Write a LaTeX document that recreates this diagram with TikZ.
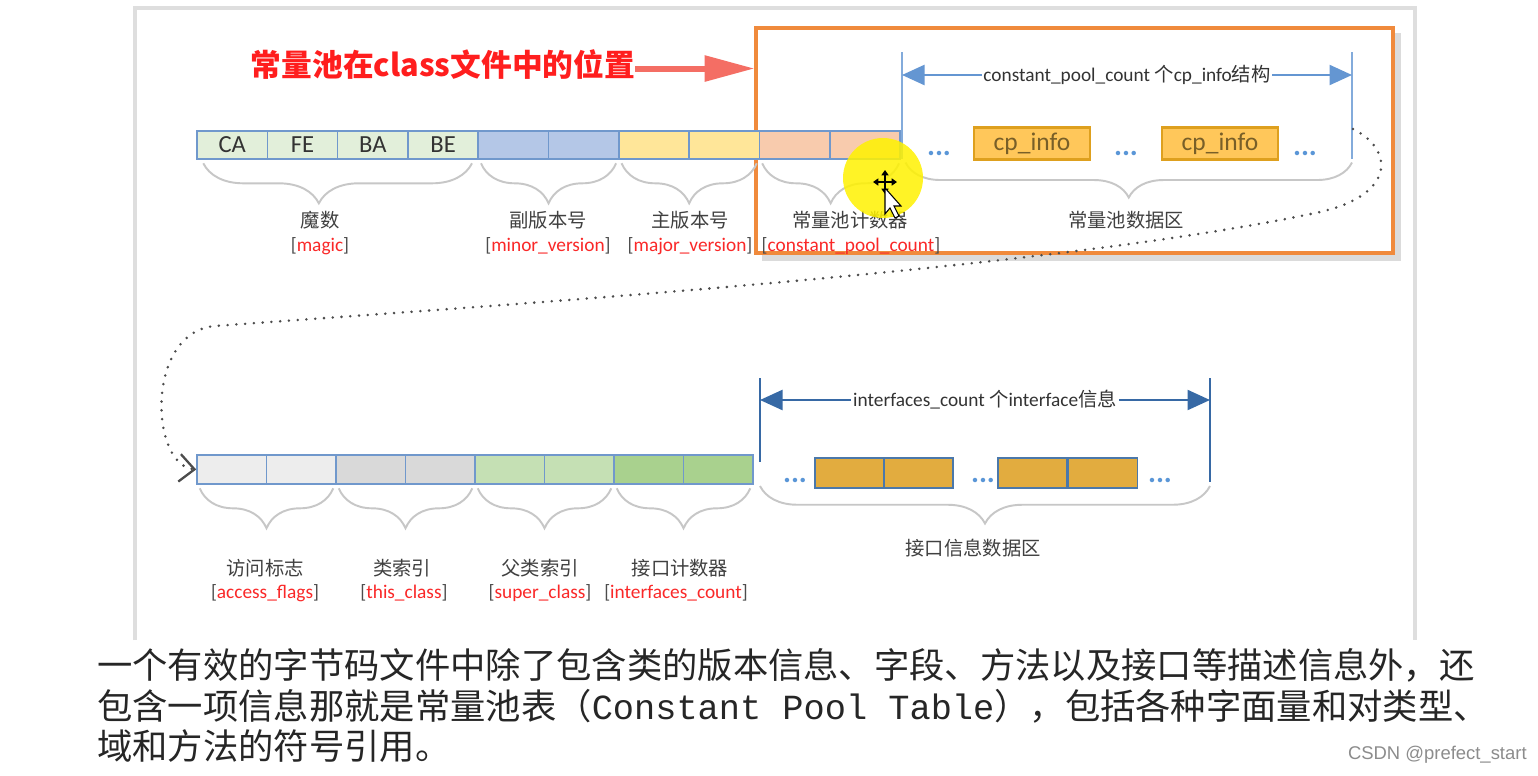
\documentclass[tikz,border=0pt]{standalone}
\usepackage{fontspec}
\setmainfont{Carlito}
\newfontfamily\cjk{Noto Sans CJK SC}
\newfontfamily\mono{Liberation Mono}
\newfontfamily\wmark{Liberation Sans}
\usetikzlibrary{arrows.meta,decorations.pathreplacing,positioning}
\definecolor{cellline}{RGB}{112,152,204}
\definecolor{magicC}{RGB}{226,239,218}
\definecolor{minorC}{RGB}{180,199,231}
\definecolor{majorC}{RGB}{255,230,153}
\definecolor{countC}{RGB}{248,203,173}
\definecolor{accessC}{RGB}{237,237,237}
\definecolor{thisC}{RGB}{217,217,217}
\definecolor{superC}{RGB}{197,224,180}
\definecolor{icountC}{RGB}{169,209,142}
\definecolor{cpfill}{RGB}{255,199,90}
\definecolor{cpline}{RGB}{222,160,30}
\definecolor{cptext}{RGB}{120,95,40}
\definecolor{iffill}{RGB}{226,172,63}
\definecolor{ifline}{RGB}{75,120,170}
\definecolor{labred}{RGB}{250,40,40}
\definecolor{titlered}{RGB}{255,30,30}
\definecolor{salmon}{RGB}{244,110,100}
\definecolor{poolorange}{RGB}{240,138,60}
\definecolor{dimblue}{RGB}{100,150,210}
\definecolor{dimblueb}{RGB}{55,105,165}
\definecolor{dotblue}{RGB}{90,150,215}

\begin{document}
\begin{tikzpicture}
    [x=0.02cm, y=-0.02cm,
      cell/.style={
        rectangle,
        draw=cellline,
        line width=0.9pt,
        minimum width=1.406cm,
        minimum height=0.56cm,
        inner sep=0pt,
        text=black!80,
        font=\fontsize{14}{16}\selectfont
      },
      cellb/.style={cell, minimum width=1.39cm, minimum height=0.58cm},
      cpbox/.style={
        rectangle,
        draw=cpline,
        line width=1.2pt,
        fill=cpfill,
        minimum width=2.32cm,
        minimum height=0.64cm,
        inner sep=0pt,
        text=cptext,
        font=\fontsize{14.5}{16}\selectfont
      },
      ifbox/.style={
        rectangle,
        draw=ifline,
        line width=0.9pt,
        fill=iffill,
        minimum width=1.38cm,
        minimum height=0.6cm,
        inner sep=0pt
      },
      brc/.style={
        decorate,
        decoration={brace, mirror, amplitude=0.8cm},
        draw=black!22,
        line width=1.1pt
      },
      zh/.style={font=\cjk\fontsize{11}{13}\selectfont, text=black!75, inner sep=1pt},
      en/.style={font=\fontsize{11}{13}\selectfont, text=black!70, inner sep=1pt},
      dots/.style={anchor=base, text=dotblue, inner sep=0pt, font=\bfseries\fontsize{17}{18}\selectfont},
      vline/.style={draw=dimblue!80, line width=1.3pt},
      dimarr/.style={{Triangle[length=0.45cm,width=0.4cm]}-{Triangle[length=0.45cm,width=0.4cm]}, line width=1.3pt},
      para/.style={anchor=west, inner sep=0pt, text=black!85, font=\cjk\fontsize{20.1}{24}\selectfont}
    ]
    \useasboundingbox (0,0) rectangle (1538,775);
    \fill[white] (0,0) rectangle (1538,775);

    % slide frame
    \draw[black!13, line width=1.8pt] (135,640) -- (135,8) -- (1415,8) -- (1415,640);

    % title and pointer to the pool
    \draw[black!14, line width=3pt] (762,258) -- (1398,258) -- (1398,33);
    \node[draw=poolorange, line width=1.8pt, minimum width=12.74cm, minimum height=4.5cm] (poolBox) at (1074.5,140.5) {};
    \node[inner sep=0pt, text=titlered, font=\cjk\bfseries\fontsize{17.5}{20}\selectfont] (title) at (443,65) {常量池在class文件中的位置};
    \draw[salmon, line width=3.4pt, -{Triangle[length=1cm,width=0.5cm]}] ([yshift=-2pt]title.east) -- ([yshift=-2pt]title.east -| poolBox.west);

    % first row
    \node[cell, fill=magicC] (ca) at (232.2,145) {CA};
    \node[cell, fill=magicC] (fe) at (302.5,145) {FE};
    \node[cell, fill=magicC] (ba) at (372.8,145) {BA};
    \node[cell, fill=magicC] (be) at (443.1,145) {BE};
    \node[cell, fill=minorC] (mi1) at (513.4,145) {};
    \node[cell, fill=minorC] (mi2) at (583.7,145) {};
    \node[cell, fill=majorC] (ma1) at (654.0,145) {};
    \node[cell, fill=majorC] (ma2) at (724.3,145) {};
    \node[cell, fill=countC] (cc1) at (794.6,145) {};
    \node[cell, fill=countC] (cc2) at (864.9,145) {};

    % constant pool area
    \coordinate (poolTL) at (902,52);
    \coordinate (poolBL) at (902,159);
    \coordinate (poolTR) at (1352,52);
    \coordinate (poolBR) at (1352,159);
    \draw[vline] (poolTL) -- (poolBL);
    \draw[vline] (poolTR) -- (poolBR);
    \draw[dimarr, draw=dimblue, fill=dimblue] ([yshift=-0.46cm]poolTL) -- ([yshift=-0.46cm]poolTR)
      node[midway, fill=white, inner sep=1pt, text=black!80, font=\fontsize{11}{13}\selectfont] (poolTxt) {constant\_pool\_count {\cjk 个}cp\_info{\cjk 结构}};
    \node[cpbox] (cp1) at (1032,143.5) {cp\_info};
    \node[cpbox] (cp2) at (1220,143.5) {cp\_info};
    \node[dots] (d1) at (939,155) {...};
    \node[dots] (d2) at (1126,155) {...};
    \node[dots] (d3) at (1305,155) {...};

    % braces of the first row
    \draw[brc, decoration={aspect=0.43}] ([xshift=4pt,yshift=-2pt]ca.south west) -- ([xshift=-4pt,yshift=-2pt]be.south east);
    \draw[brc] ([xshift=2pt,yshift=-2pt]mi1.south west) -- ([xshift=-2pt,yshift=-2pt]mi2.south east);
    \draw[brc] ([xshift=2pt,yshift=-2pt]ma1.south west) -- ([xshift=-2pt,yshift=-2pt]ma2.south east);
    \draw[brc] ([xshift=2pt,yshift=-2pt]cc1.south west) -- ([xshift=-1pt,yshift=-2pt]cc2.south east);
    \draw[brc, decoration={amplitude=0.7cm}] ([xshift=2pt,yshift=-2pt]poolBL) -- ([yshift=-2pt]poolBR);

    \node[zh] (magicZh) at (320,220) {魔数};
    \node[en] (magicEn) at (320,246) {[\textcolor{labred}{magic}]};
    \node[zh] (minorZh) at (548,220) {副版本号};
    \node[en] (minorEn) at (548,246) {[\textcolor{labred}{minor\_version}]};
    \node[zh] (majorZh) at (690,220) {主版本号};
    \node[en] (majorEn) at (690,246) {[\textcolor{labred}{major\_version}]};
    \node[zh] (countZh) at (850,220) {常量池计数器};
    \node[en] (countEn) at (851,246) {[\textcolor{labred}{constant\_pool\_count}]};
    \node[zh] (poolZh) at (1126,220) {常量池数据区};

    % second row
    \node[cellb, fill=accessC] (af1) at (231.75,469.5) {};
    \node[cellb, fill=accessC] (af2) at (301.25,469.5) {};
    \node[cellb, fill=thisC] (tc1) at (370.75,469.5) {};
    \node[cellb, fill=thisC] (tc2) at (440.25,469.5) {};
    \node[cellb, fill=superC] (sc1) at (509.75,469.5) {};
    \node[cellb, fill=superC] (sc2) at (579.25,469.5) {};
    \node[cellb, fill=icountC] (ic1) at (648.75,469.5) {};
    \node[cellb, fill=icountC] (ic2) at (718.25,469.5) {};

    % interface area
    \coordinate (ifTL) at (760,378);
    \coordinate (ifBL) at (760,462);
    \coordinate (ifTR) at (1210,378);
    \coordinate (ifBR) at (1210,482);
    \draw[vline, draw=dimblueb] (ifTL) -- (ifBL);
    \draw[vline, draw=dimblueb] (ifTR) -- (ifBR);
    \draw[dimarr, draw=dimblueb, fill=dimblueb] ([yshift=-0.44cm]ifTL) -- ([yshift=-0.44cm]ifTR)
      node[midway, fill=white, inner sep=1pt, text=black!80, font=\fontsize{11}{13}\selectfont] (ifTxt) {interfaces\_count {\cjk 个}interface{\cjk 信息}};
    \node[ifbox] (if1a) at (849.5,473) {};
    \node[ifbox] (if1b) at (918.5,473) {};
    \node[ifbox] (if2a) at (1032.5,473) {};
    \node[ifbox] (if2b) at (1103,473) {};
    \node[dots] (d4) at (795,482) {...};
    \node[dots] (d5) at (983,482) {...};
    \node[dots] (d6) at (1160,482) {...};

    % braces of the second row
    \draw[brc] ([xshift=2pt,yshift=-2pt]af1.south west) -- ([xshift=-2pt,yshift=-2pt]af2.south east);
    \draw[brc] ([xshift=2pt,yshift=-2pt]tc1.south west) -- ([xshift=-2pt,yshift=-2pt]tc2.south east);
    \draw[brc] ([xshift=2pt,yshift=-2pt]sc1.south west) -- ([xshift=-2pt,yshift=-2pt]sc2.south east);
    \draw[brc] ([xshift=2pt,yshift=-2pt]ic1.south west) -- ([xshift=-2pt,yshift=-2pt]ic2.south east);
    \draw[brc, decoration={amplitude=0.75cm}] (760,486) -- (1210,486);

    \node[zh] (accessZh) at (265,568) {访问标志};
    \node[en] (accessEn) at (265,593) {[\textcolor{labred}{access\_flags}]};
    \node[zh] (thisZh) at (402,568) {类索引};
    \node[en] (thisEn) at (404,593) {[\textcolor{labred}{this\_class}]};
    \node[zh] (superZh) at (540,568) {父类索引};
    \node[en] (superEn) at (540,593) {[\textcolor{labred}{super\_class}]};
    \node[zh] (icountZh) at (680,568) {接口计数器};
    \node[en] (icountEn) at (676,593) {[\textcolor{labred}{interfaces\_count}]};
    \node[zh] (ifZh) at (973,548) {接口信息数据区};

    % dotted link from the pool to the second row
    \coordinate (poolEnd) at (1353,129);
    \draw[black!70, line width=1.6pt, line cap=round, dash pattern=on 0pt off 5pt,
      -{Straight Barb[length=0.3cm,width=0.55cm,line width=1.3pt]}]
      (poolEnd) .. controls (1395,150) and (1395,195) .. (1320,212)
      .. controls (1050,270) and (500,305) .. (215,326)
      .. controls (145,332) and (150,465) .. (af1.west);

    % cursor
    \fill[yellow, opacity=0.85] (883,178) circle [radius=0.8cm];
    \draw[black, line width=1pt, {Triangle[length=3pt,width=4pt]}-{Triangle[length=3pt,width=4pt]}] (873,182) -- (897,182);
    \draw[black, line width=1pt, {Triangle[length=3pt,width=4pt]}-{Triangle[length=3pt,width=4pt]}] (885,170) -- (885,194);
    \draw[black, fill=white, line width=0.6pt] (885,188) -- (885,214) -- (890,208) -- (895,218) -- (899,216) -- (894,206) -- (901,206) -- cycle;

    % text below the slide
    \node[para] (line1) at (97,665) {一个有效的字节码文件中除了包含类的版本信息、字段、方法以及接口等描述信息外，还};
    \node[para] (line2) at (97,706) {包含一项信息那就是常量池表（{\mono Constant Pool Table}），包括各种字面量和对类型、};
    \node[para] (line3) at (97,746) {域和方法的符号引用。};
    \node[anchor=east, inner sep=0pt, text=black!45, font=\wmark\fontsize{10.5}{12}\selectfont] (csdn) at (1527,755) {CSDN @prefect\_start};
\end{tikzpicture}
\end{document}
